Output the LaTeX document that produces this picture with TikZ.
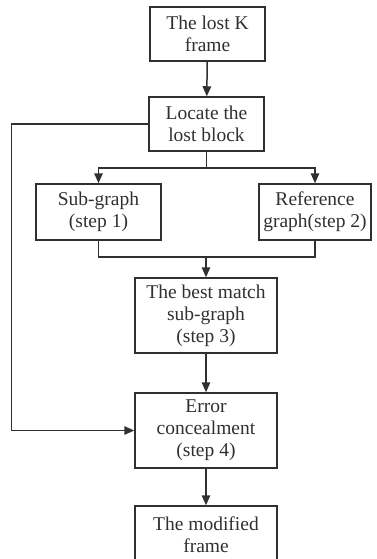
\documentclass[tikz,border=0pt]{standalone}
\usepackage{fontspec}
\setmainfont{Liberation Serif}
\usetikzlibrary{arrows.meta}
\definecolor{ink}{HTML}{303030}
\begin{document}
\begin{tikzpicture}[x=1pt,y=-1pt,
  box/.style={draw=ink, line width=1.5pt, text=ink, align=center,
    inner sep=0pt, font=\fontsize{19.5}{22}\selectfont},
  link/.style={draw=ink, line width=1.5pt},
  arr/.style={link, -{Triangle[length=10pt,width=8.5pt]}}]
\useasboundingbox (0,0) rectangle (377,559);

\node[box, minimum width=115pt, minimum height=54pt] (lost)   at (207.5,34)  {The lost K\\frame};
\node[box, minimum width=115pt, minimum height=54pt] (locate) at (206.5,124) {Locate the\\lost block};
\node[box, minimum width=125pt, minimum height=56pt] (sub)    at (98.5,212)  {Sub-graph\\(step 1)};
\node[box, minimum width=112pt, minimum height=56pt] (ref)    at (315,212)   {Reference\\graph(step 2)};
\node[box, minimum width=142pt, minimum height=75pt] (best)   at (206,315.5) {The best match\\sub-graph\\(step 3)};
\node[box, minimum width=142pt, minimum height=75pt] (conceal) at (206,430.5) {Error\\concealment\\(step 4)};
\node[box, minimum width=142pt, minimum height=58pt] (out)    at (206,535)   {The modified\\frame};

\coordinate (split) at (206.5,168);
\coordinate (merge) at (206,257);

\draw[arr] (lost) -- (locate);
\draw[link] (locate.south) -- (split);
\draw[arr] (split) -| (sub.north);
\draw[arr] (split) -| (ref.north);
\draw[link] (sub.south) |- (merge);
\draw[link] (ref.south) |- (merge);
\draw[arr] (merge) -- (best.north);
\draw[arr] (best) -- (conceal);
\draw[arr] (conceal) -- (out);
\draw[arr] (locate.west) -- ++(-137,0) |- (conceal.west);
\end{tikzpicture}
\end{document}
